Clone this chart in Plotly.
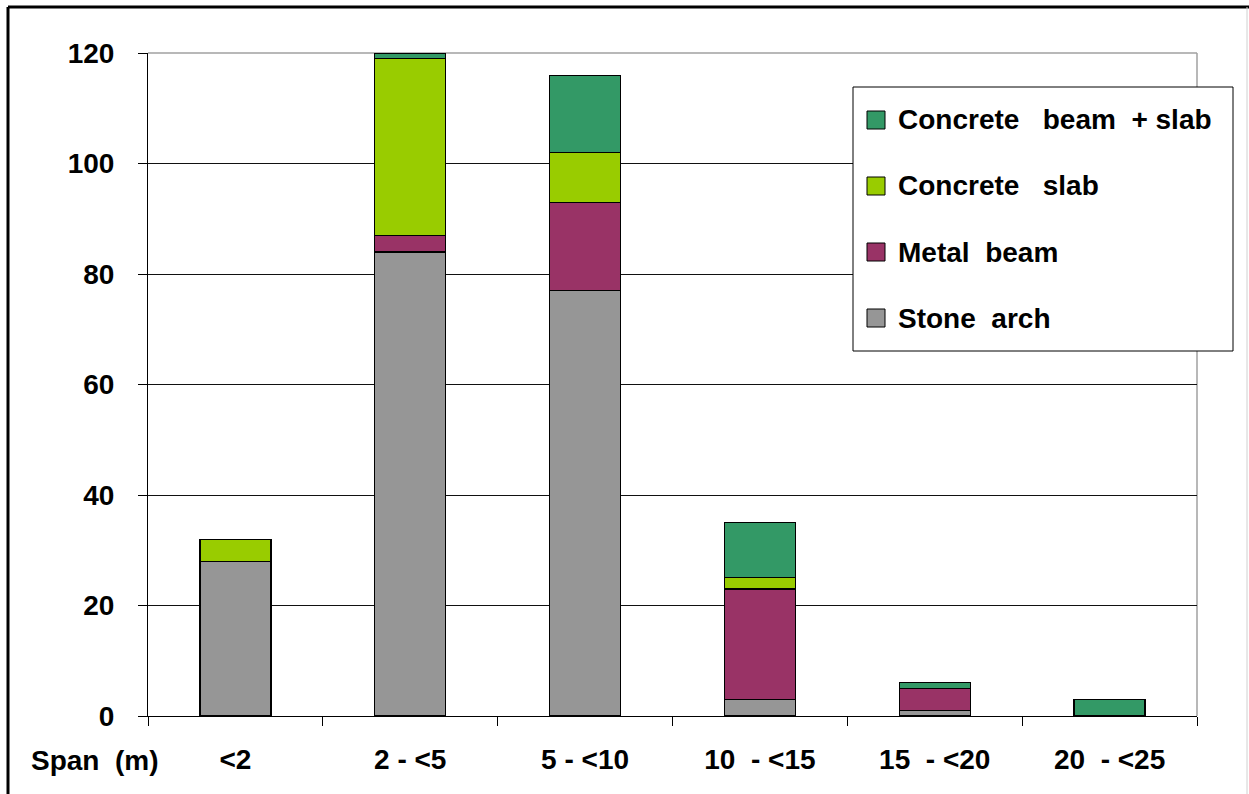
import plotly.graph_objects as go

# Bridge counts by span class and deck type (stacked bottom to top)
spans = ["<2", "2 - <5", "5 - <10", "10\u00a0 - <15", "15\u00a0 - <20", "20\u00a0 - <25"]
stone_arch = [28, 84, 77, 3, 1, 0]
metal_beam = [0, 3, 16, 20, 4, 0]
concrete_slab = [4, 32, 9, 2, 0, 0]
concrete_beam_slab = [0, 1, 14, 10, 1, 3]

series_names = ["Stone\u00a0 arch", "Metal\u00a0 beam", "Concrete\u00a0\u00a0 slab",
                "Concrete\u00a0\u00a0 beam\u00a0 + slab"]
series_values = [stone_arch, metal_beam, concrete_slab, concrete_beam_slab]
series_colors = ["#969696", "#993366", "#99CC00", "#339966"]

y_ticks = [0, 20, 40, 60, 80, 100, 120]

FONT = "Liberation Sans, Arial, sans-serif"

# plot-area geometry in pixels (used to place the frame and the key)
L, R, T, B = 148, 1197, 53, 716
W, H = R - L, B - T


def px(x):
    return (x - L) / W


def py(y):
    return (B - y) / H


fig = go.Figure()
for name, vals, col in zip(series_names, series_values, series_colors):
    fig.add_trace(go.Bar(
        x=spans, y=vals, name=name, showlegend=False,
        marker=dict(color=col, line=dict(color="black", width=1.2)),
    ))

shapes = []
# plot-area border (top and right), light grey
shapes.append(dict(type="line", xref="paper", yref="paper", x0=0, x1=1, y0=1, y1=1,
                   line=dict(color="#a0a0a0", width=1.5), layer="below"))
shapes.append(dict(type="line", xref="paper", yref="paper", x0=1, x1=1, y0=0, y1=1,
                   line=dict(color="#a0a0a0", width=1.5), layer="below"))
# outer chart frame
shapes.append(dict(type="line", xref="paper", yref="paper", x0=px(8), x1=px(1249),
                   y0=py(7), y1=py(7), line=dict(color="black", width=3)))
shapes.append(dict(type="line", xref="paper", yref="paper", x0=px(8), x1=px(8),
                   y0=py(7), y1=py(800), line=dict(color="black", width=3)))
shapes.append(dict(type="line", xref="paper", yref="paper", x0=px(1247), x1=px(1247),
                   y0=py(7), y1=py(800), line=dict(color="#d0d0d0", width=1)))

# key box
shapes.append(dict(type="rect", xref="paper", yref="paper", x0=px(853), x1=px(1233),
                   y0=py(87), y1=py(351), line=dict(color="black", width=1),
                   fillcolor="white", layer="above"))

annotations = []
key_rows = [120, 186, 252, 318]
for (name, col), yc in zip(list(zip(series_names, series_colors))[::-1], key_rows):
    shapes.append(dict(type="rect", xref="paper", yref="paper",
                       x0=px(867), x1=px(885), y0=py(yc - 9), y1=py(yc + 9),
                       line=dict(color="black", width=1), fillcolor=col, layer="above"))
    annotations.append(dict(xref="paper", yref="paper", x=px(896), y=py(yc),
                            xanchor="left", yanchor="middle", showarrow=False,
                            text=name,
                            font=dict(family=FONT, size=28, color="black", weight="bold")))

annotations.append(dict(xref="paper", yref="paper", x=px(95), y=py(760),
                        xanchor="center", yanchor="middle", showarrow=False,
                        text="Span\u00a0\u00a0(m)",
                        font=dict(family=FONT, size=28, color="black", weight="bold")))

fig.update_layout(
    width=1249, height=794,
    margin=dict(l=L, r=1249 - R, t=T, b=794 - B, pad=0),
    barmode="stack", bargap=0.594,
    plot_bgcolor="white", paper_bgcolor="white",
    font=dict(family=FONT, size=28, color="black", weight="bold"),
    shapes=shapes, annotations=annotations,
    xaxis=dict(
        type="category", categoryorder="array", categoryarray=spans,
        showline=True, linecolor="black", linewidth=1,
        ticks="outside", tickson="boundaries", ticklen=9, tickcolor="black",
        showgrid=False, zeroline=False, ticklabelstandoff=18,
        tickfont=dict(family=FONT, size=28, color="black", weight="bold"),
    ),
    yaxis=dict(
        range=[0, 120], tickvals=y_ticks,
        showline=True, linecolor="black", linewidth=1,
        ticks="outside", ticklen=9, tickcolor="black",
        showgrid=True, gridcolor="#111111", gridwidth=1, zeroline=False,
        ticklabelstandoff=18,
        tickfont=dict(family=FONT, size=28, color="black", weight="bold"),
    ),
)

fig.write_html("out.html")
